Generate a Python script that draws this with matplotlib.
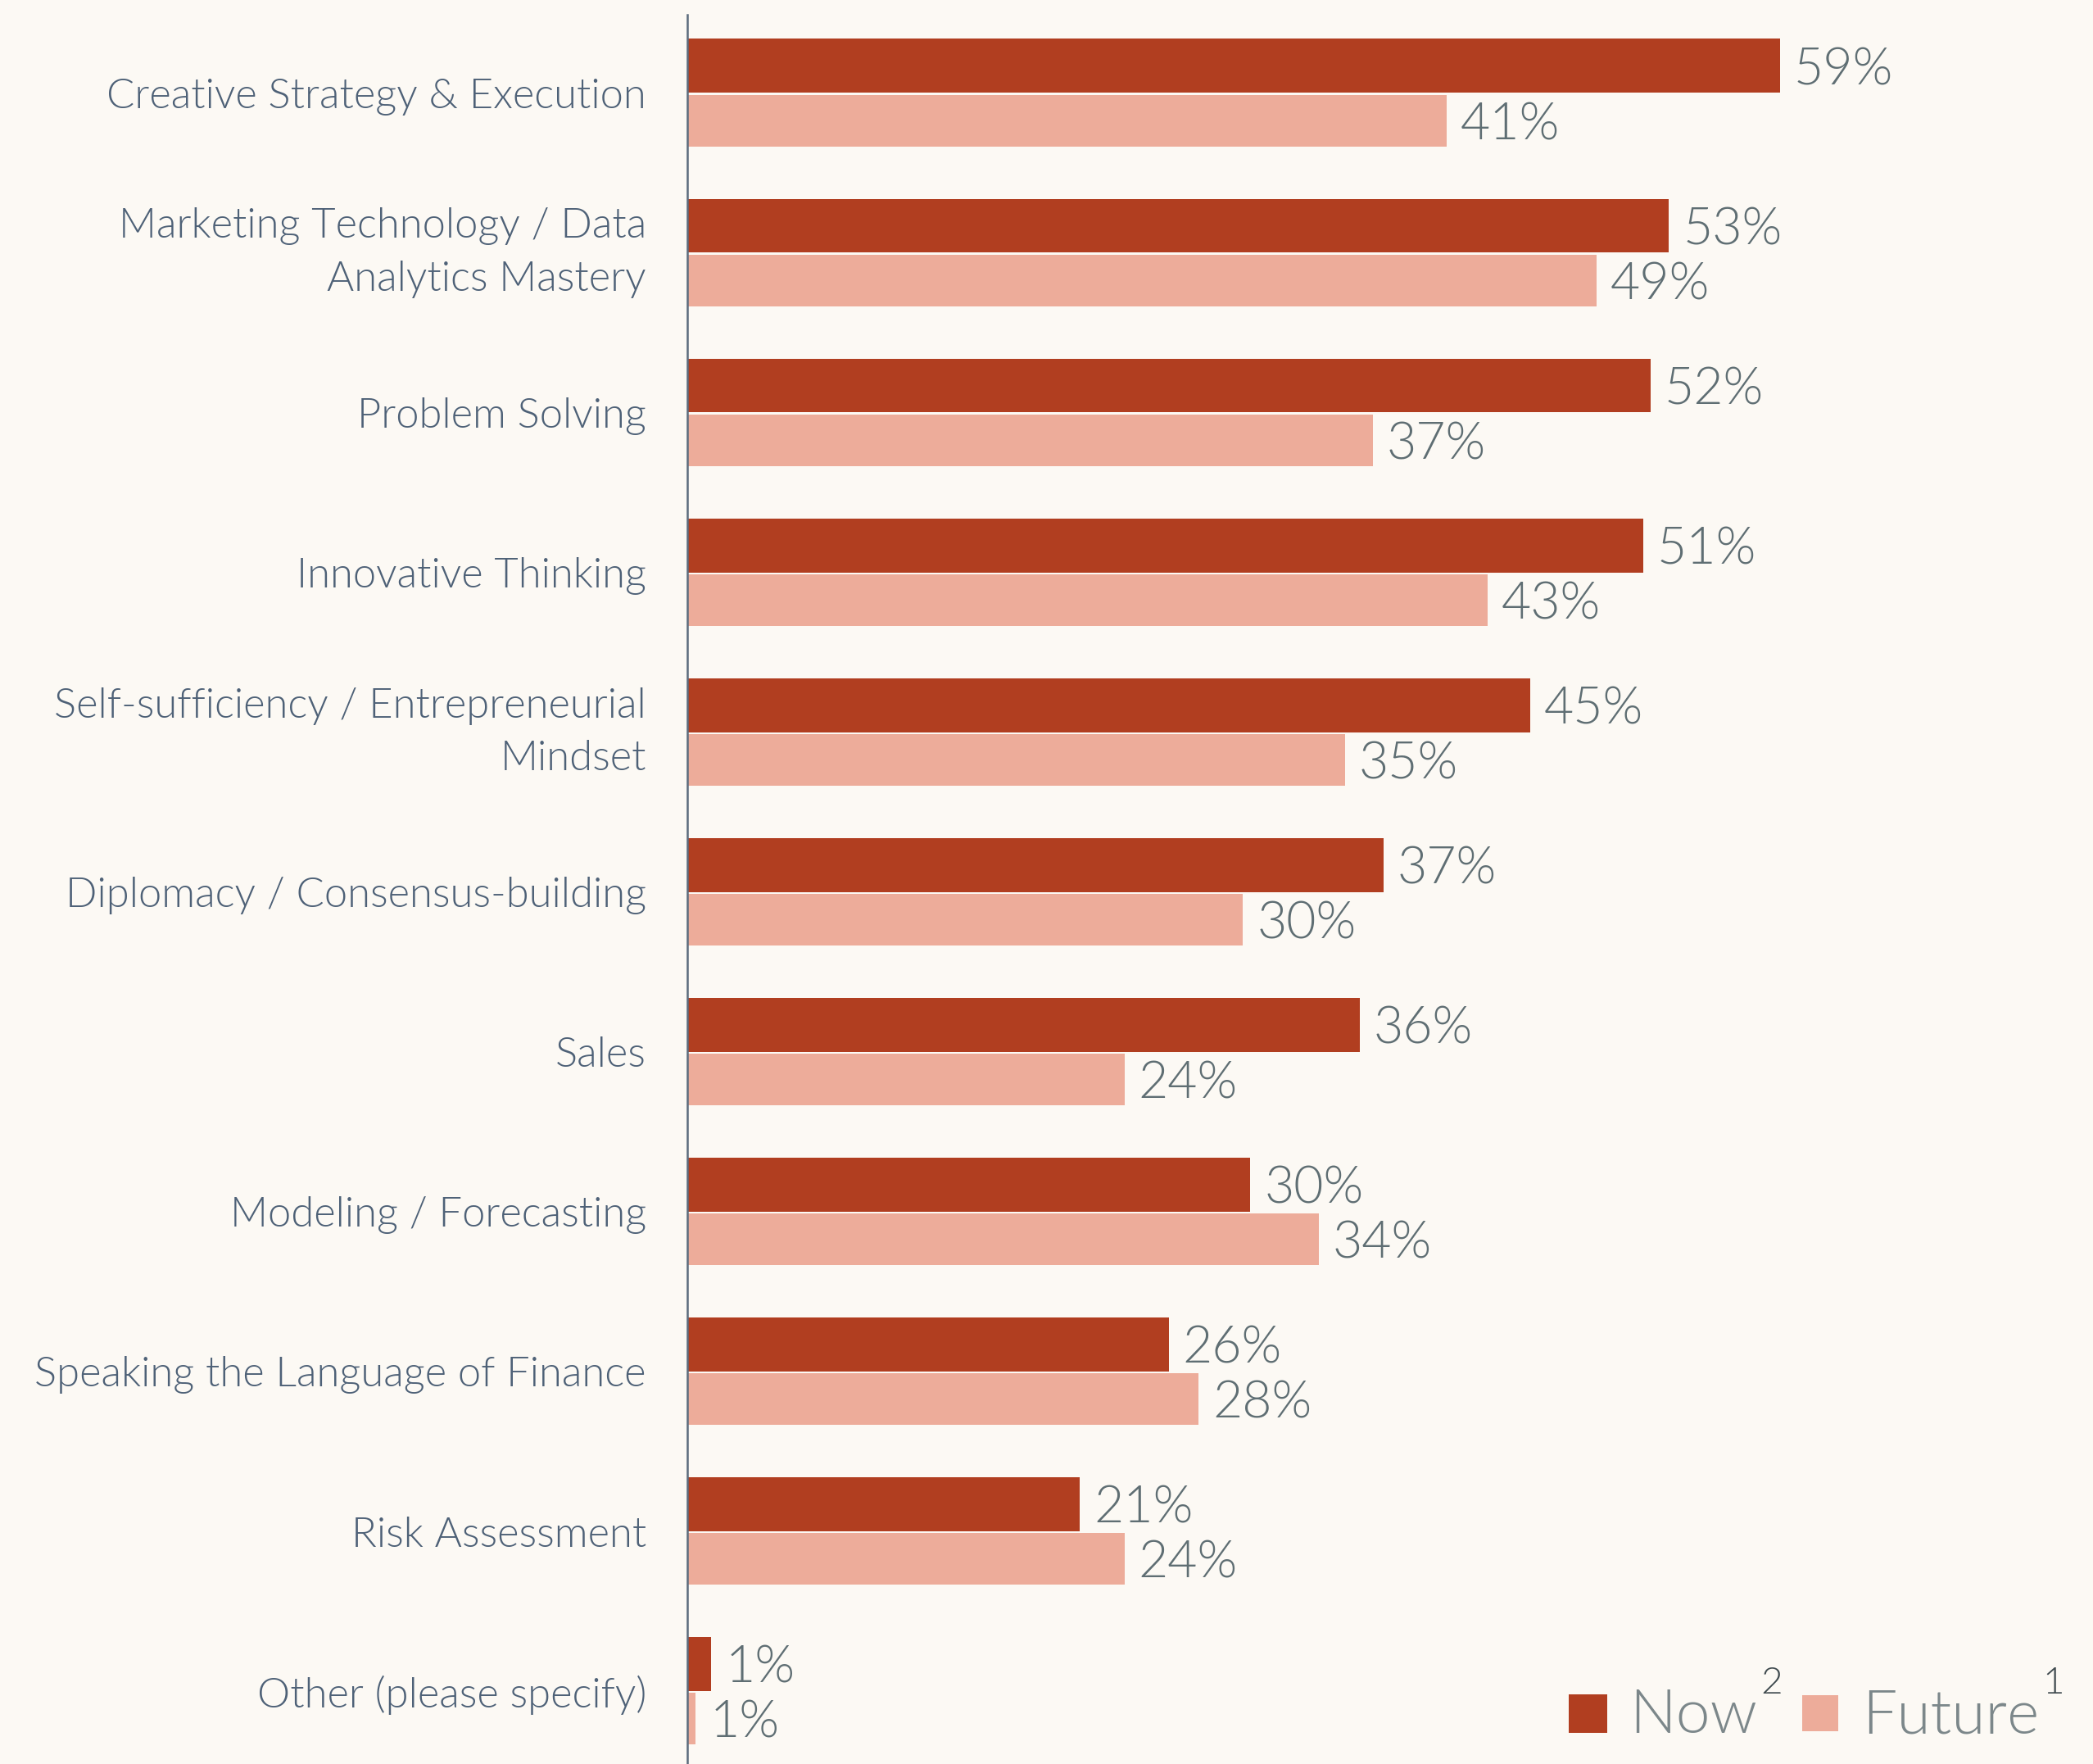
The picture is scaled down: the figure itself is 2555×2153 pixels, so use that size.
import numpy as np
import matplotlib.pyplot as plt
from matplotlib.patches import Rectangle

plt.rcParams['font.family'] = ['Lato', 'DejaVu Sans']

skills = ["Creative Strategy & Execution",
          "Marketing Technology / Data\nAnalytics Mastery",
          "Problem Solving",
          "Innovative Thinking",
          "Self-sufficiency / Entrepreneurial\nMindset",
          "Diplomacy / Consensus-building",
          "Sales",
          "Modeling / Forecasting",
          "Speaking the Language of Finance",
          "Risk Assessment",
          "Other (please specify)"]
# bar lengths (labels are the rounded figures shown)
now = [59, 53, 52, 51.6, 45.5, 37.6, 36.3, 30.4, 26, 21.2, 1.3]
future = [41, 49.1, 37, 43.2, 35.5, 30, 23.6, 34.1, 27.6, 23.6, 0.45]
now_lbl = ["59%", "53%", "52%", "51%", "45%", "37%", "36%", "30%", "26%", "21%", "1%"]
future_lbl = ["41%", "49%", "37%", "43%", "35%", "30%", "24%", "34%", "28%", "24%", "1%"]

bg = '#FCF9F4'
c_now = '#B13E20'
c_fut = '#EDAC9A'
c_tick = '#4E6177'
c_val = '#5F6E73'
fw = 300

W, H = 2555, 2153
fig = plt.figure(figsize=(W/100, H/100), dpi=100, facecolor=bg)
ax = fig.add_axes([839/W, 0, 1 - 839/W, (H - 18)/H])
ax.set_facecolor(bg)

y = np.arange(len(skills))
ax.barh(y - 0.17, now, height=0.338, color=c_now)
ax.barh(y + 0.172, future, height=0.323, color=c_fut)

for i in range(len(skills)):
    ax.text(now[i] + 0.75, y[i] - 0.17, now_lbl[i], va='center_baseline', ha='left',
            fontsize=45, color=c_val, fontweight=fw)
    ax.text(future[i] + 0.75, y[i] + 0.172, future_lbl[i], va='center_baseline', ha='left',
            fontsize=45, color=c_val, fontweight=fw)

ax.set_xlim(0, 75.9)
ax.set_ylim(10.456, -0.49)
ax.set_yticks(y)
ax.set_yticklabels(skills, fontsize=36.5, color=c_tick, linespacing=1.5, fontweight=fw)
for lab in ax.get_yticklabels():
    if "\n" in lab.get_text():
        lab.set_va('center')
ax.tick_params(axis='y', length=0, pad=36)
ax.set_xticks([])
for s in ['top', 'right', 'bottom']:
    ax.spines[s].set_visible(False)
ax.spines['left'].set_color('#5B6B7D')
ax.spines['left'].set_linewidth(1.8)

# legend drawn by hand, bottom right
fig.patches.append(Rectangle((1915/W, 1 - 2115/H), 47/W, 47/H, transform=fig.transFigure,
                             facecolor=c_now, edgecolor='none'))
fig.patches.append(Rectangle((2200/W, 1 - 2113/H), 44/W, 44/H, transform=fig.transFigure,
                             facecolor=c_fut, edgecolor='none'))
t1 = fig.text(1989/W, 1 - 2115/H, "Now", fontsize=54, color='#7C878A',
              ha='left', va='baseline', fontweight=fw)
t2 = fig.text(2273/W, 1 - 2115/H, "Future", fontsize=54, color='#7C878A',
              ha='left', va='baseline', fontweight=fw)
fig.canvas.draw()
r = fig.canvas.get_renderer()
for t, sup in [(t1, "2"), (t2, "1")]:
    bb = t.get_window_extent(r)
    fig.text(bb.x1 / W + 4/W, 1 - 2067/H, sup, fontsize=33, color='#3F4A4E',
             ha='left', va='baseline', fontweight=fw)

fig.savefig('out.png', dpi=100, facecolor=bg)
